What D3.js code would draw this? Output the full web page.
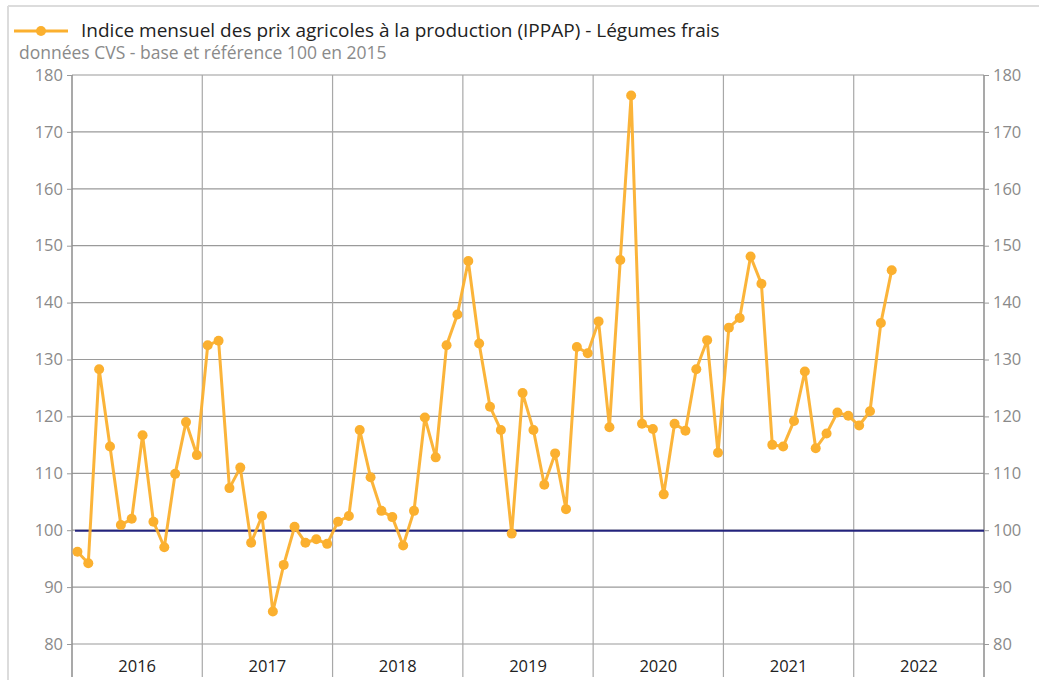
<!DOCTYPE html>
<html>
<head>
<meta charset="utf-8">
<script src="https://cdn.jsdelivr.net/npm/d3@7"></script>
<style>
  body { margin: 0; background: #fff; }
  svg { font-family: "Open Sans", "Noto Sans", sans-serif; }
</style>
</head>
<body>
<svg id="chart" width="1039" height="680"></svg>
<script>
const years = ['2016', '2017', '2018', '2019', '2020', '2021', '2022'];
const yTicks = [80, 90, 100, 110, 120, 130, 140, 150, 160, 170, 180];
const seriesLabel = 'Indice mensuel des prix agricoles à la production (IPPAP) - Légumes frais';
const subTitle = 'données CVS - base et référence 100 en 2015';
const baseValue = 100;

// monthly values, Jan 2016 -> Apr 2022
const values = [
  96.2, 94.2, 128.3, 114.7, 100.9, 102.0, 116.7, 101.5, 97.0, 109.9, 119.0, 113.2,
  132.5, 133.3, 107.4, 111.0, 97.8, 102.5, 85.7, 93.9, 100.6, 97.8, 98.4, 97.6,
  101.5, 102.5, 117.6, 109.3, 103.4, 102.3, 97.3, 103.4, 119.8, 112.8, 132.5, 137.9,
  147.3, 132.8, 121.7, 117.6, 99.4, 124.1, 117.6, 108.0, 113.5, 103.7, 132.2, 131.1,
  136.7, 118.1, 147.5, 176.4, 118.7, 117.8, 106.3, 118.7, 117.5, 128.3, 133.4, 113.6,
  135.6, 137.3, 148.1, 143.3, 115.0, 114.7, 119.2, 127.9, 114.4, 117.0, 120.7, 120.1,
  118.4, 120.9, 136.4, 145.7
];

const svg = d3.select('#chart');
const margin = {top: 75, left: 72};
const width = +svg.attr('width');
const height = +svg.attr('height');
const plotWidth = 912;
const plotBottom = 644;
const innerHeight = plotBottom - margin.top;
const orange = '#fbb02f';

// frame
svg.append('line').attr('x1', 8).attr('x2', width).attr('y1', 6).attr('y2', 6)
  .attr('stroke', '#dcdcdc').attr('stroke-width', 2);
svg.append('line').attr('x1', 8).attr('x2', 8).attr('y1', 6).attr('y2', height)
  .attr('stroke', '#dcdcdc').attr('stroke-width', 2);

// legend
const leg = svg.append('g');
leg.append('line').attr('x1', 14).attr('x2', 68).attr('y1', 31).attr('y2', 31)
  .attr('stroke', orange).attr('stroke-width', 3);
leg.append('circle').attr('cx', 41).attr('cy', 31).attr('r', 5).attr('fill', orange);
leg.append('text').attr('x', 81).attr('y', 37).attr('font-size', 19).attr('fill', '#222')
  .text(seriesLabel);
svg.append('text').attr('x', 19).attr('y', 59).attr('font-size', 17.5).attr('fill', '#8a8a8a')
  .text(subTitle);

const g = svg.append('g').attr('transform', `translate(${margin.left}, ${margin.top})`);

const x = d3.scaleLinear().domain([0, years.length * 12]).range([0, plotWidth]);
const xYear = d3.scaleBand().domain(years).range([0, plotWidth]);
const y = d3.scaleLinear().domain([80, 180]).range([innerHeight, 0]);

// horizontal grid
g.append('g').selectAll('line').data(yTicks).join('line')
  .attr('x1', 0).attr('x2', plotWidth)
  .attr('y1', d => y(d)).attr('y2', d => y(d))
  .attr('stroke', '#9a9a9a').attr('stroke-width', 1.2);

// vertical year separators
g.append('g').selectAll('line').data(d3.range(1, years.length)).join('line')
  .attr('x1', d => x(d * 12)).attr('x2', d => x(d * 12))
  .attr('y1', 0).attr('y2', innerHeight + 33)
  .attr('stroke', '#a8a8a8').attr('stroke-width', 1.2);

// left / right axis lines
[0, plotWidth].forEach(px => {
  g.append('line').attr('x1', px).attr('x2', px).attr('y1', 0).attr('y2', innerHeight + 33)
    .attr('stroke', '#8c8c8c').attr('stroke-width', 1.5);
});

// y axes
const yLeft = g.append('g').call(d3.axisLeft(y).tickValues(yTicks).tickSize(5).tickPadding(4));
const yRight = g.append('g').attr('transform', `translate(${plotWidth},0)`)
  .call(d3.axisRight(y).tickValues(yTicks).tickSize(5).tickPadding(4));
[yLeft, yRight].forEach(ax => {
  ax.attr('font-size', null).attr('font-family', null);
  ax.select('.domain').remove();
  ax.selectAll('line').attr('stroke', '#9a9a9a');
  ax.selectAll('text').style('font-size', '16.5px').attr('fill', '#8a8a8a');
});

// x axis year labels
const xAx = g.append('g').attr('transform', `translate(0, ${innerHeight})`)
  .call(d3.axisBottom(xYear).tickSize(0).tickPadding(16));
xAx.attr('font-size', null).attr('font-family', null);
xAx.select('.domain').remove();
xAx.selectAll('text').style('font-size', '16.5px').attr('fill', '#222');

// base 100 line
g.append('line').attr('x1', 3).attr('x2', plotWidth)
  .attr('y1', y(baseValue) + 0.5).attr('y2', y(baseValue) + 0.5)
  .attr('stroke', '#23237d').attr('stroke-width', 2);

// series
const line = d3.line().x((d, i) => x(i + 0.5)).y(d => y(d));
g.append('path').datum(values).attr('d', line)
  .attr('fill', 'none').attr('stroke', orange).attr('stroke-width', 3)
  .attr('stroke-linejoin', 'round').attr('opacity', 0.95);
g.append('g').selectAll('circle').data(values).join('circle')
  .attr('cx', (d, i) => x(i + 0.5)).attr('cy', d => y(d)).attr('r', 5)
  .attr('fill', orange);
</script>
</body>
</html>
